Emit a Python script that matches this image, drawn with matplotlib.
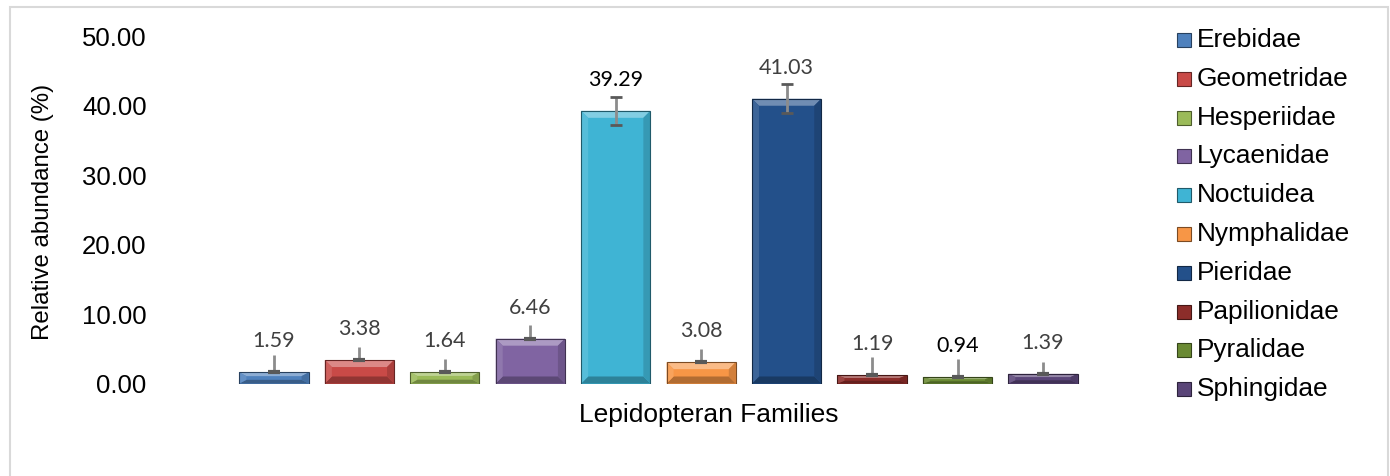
import matplotlib
matplotlib.use("Agg")
import matplotlib.pyplot as plt
from matplotlib.patches import Polygon, Rectangle
import matplotlib.colors as mcolors
import numpy as np

families = ["Erebidae", "Geometridae", "Hesperiidae", "Lycaenidae", "Noctuidea",
            "Nymphalidae", "Pieridae", "Papilionidae", "Pyralidae", "Sphingidae"]
abundance = [1.59, 3.38, 1.64, 6.46, 39.29, 3.08, 41.03, 1.19, 0.94, 1.39]
err_plus = [2.5, 1.9, 1.9, 2.0, 2.0, 1.9, 2.1, 2.6, 2.6, 1.7]
err_minus = [0.0, 0.0, 0.0, 0.0, 2.0, 0.0, 2.1, 0.0, 0.0, 0.0]
label_texts = ["1.59", "3.38", "1.64", "6.46", "39.29", "3.08", "41.03", "1.19", "0.94", "1.39"]
colors = ["#4F81BD", "#C94A47", "#9BBB59", "#8064A2", "#3FB4D4",
          "#F79646", "#23508A", "#8C2D2A", "#6A8A33", "#5A4578"]
label_colors = ["#404040", "#404040", "#404040", "#404040", "#000000",
                "#404040", "#404040", "#404040", "#000000", "#404040"]
yticks = [0, 10, 20, 30, 40, 50]

W, H = 1390, 476
fig = plt.figure(figsize=(W / 100, H / 100), dpi=100)

def fx(px):
    return px / W

def fy(py):
    return 1 - py / H

# axes placement (pixel coordinates of reference)
left_px, right_px = 155, 1160
top_px, bot_px = 36.5, 383.5
ax = fig.add_axes([fx(left_px), fy(bot_px), fx(right_px - left_px), (bot_px - top_px) / H])
x = np.arange(len(families))
spacing = 85.44
first_c = 274
ax.set_xlim(-(first_c - left_px) / spacing, (right_px - first_c) / spacing)
ax.set_ylim(0, 50)
for s in ax.spines.values():
    s.set_visible(False)
ax.set_xticks([])
ax.set_yticks(yticks)
ax.set_yticklabels([f"{v:.2f}" for v in yticks], fontsize=18.5, family="Liberation Sans")
ax.tick_params(axis="y", length=0, pad=6)

bw = 0.81
bars = ax.bar(x, abundance, width=bw, color=colors, edgecolor="none", zorder=2)

# bevel effect
fig.canvas.draw()
p0 = ax.transData.transform((0, 0))
p1 = ax.transData.transform((1, 1))
ux = p1[0] - p0[0]
uy = p1[1] - p0[1]
bev_px = 7
for b, c in zip(bars, colors):
    x0, w, h = b.get_x(), b.get_width(), b.get_height()
    dx = bev_px / ux
    dy = min(bev_px / uy, h / 3)
    base = np.array(mcolors.to_rgb(c))
    light = base + (1 - base) * 0.35
    lighter = base + (1 - base) * 0.12
    dark = base * 0.85
    darker = base * 0.72
    x1 = x0 + w
    polys = [
        ([(x0, h), (x1, h), (x1 - dx, h - dy), (x0 + dx, h - dy)], light),
        ([(x0, 0), (x1, 0), (x1 - dx, dy), (x0 + dx, dy)], darker),
        ([(x0, 0), (x0, h), (x0 + dx, h - dy), (x0 + dx, dy)], lighter),
        ([(x1, 0), (x1, h), (x1 - dx, h - dy), (x1 - dx, dy)], dark),
    ]
    for pts, col in polys:
        ax.add_patch(Polygon(pts, closed=True, facecolor=col, edgecolor="none", zorder=3))
    ax.add_patch(Rectangle((x0, 0), w, h, facecolor="none", edgecolor=base * 0.5, lw=0.8, zorder=4))

# error bars
cap_half = 6 / ux
for xi, v, ep, em in zip(x, abundance, err_plus, err_minus):
    ax.vlines(xi, v - em, v + ep, colors="#8C8C8C", lw=2, zorder=5)
    if em > 0:
        ax.hlines([v - em, v + ep], xi - cap_half, xi + cap_half, colors="#595959", lw=2, zorder=5)
    else:
        ax.hlines(v, xi - cap_half, xi + cap_half, colors="#595959", lw=3, zorder=5)

# data labels
for xi, v, t, lc in zip(x, abundance, label_texts, label_colors):
    ax.annotate(t, (xi, v), xytext=(0, 31), textcoords="offset pixels", ha="center", va="center",
                fontsize=15.5, family="Lato", color=lc, zorder=6)

# axis titles
fig.text(fx(709), fy(415), "Lepidopteran Families", ha="center", va="center",
         fontsize=19, family="Liberation Sans")
fig.text(fx(43), fy(212), "Relative abundance (%)", ha="center", va="center", rotation=90,
         fontsize=17.3, family="Liberation Sans")

# legend (manual)
for i, (name, c) in enumerate(zip(families, colors)):
    cy = 40 + 38.8 * i
    base = np.array(mcolors.to_rgb(c))
    fig.patches.append(Rectangle((fx(1177), fy(cy + 7)), fx(14), 14 / H, transform=fig.transFigure,
                                 facecolor=c, edgecolor=base * 0.5, lw=0.8))
    fig.text(fx(1197), fy(cy), name, ha="left", va="center", fontsize=18.9, family="Liberation Sans")

# outer border (left, top, right; bottom runs off the image)
fig.patches.append(Rectangle((fx(9.5), fy(480)), fx(1378.5), 473 / H, transform=fig.transFigure,
                             facecolor="none", edgecolor="#D9D9D9", lw=1.5, clip_on=False))

fig.savefig("out.png", dpi=100)
